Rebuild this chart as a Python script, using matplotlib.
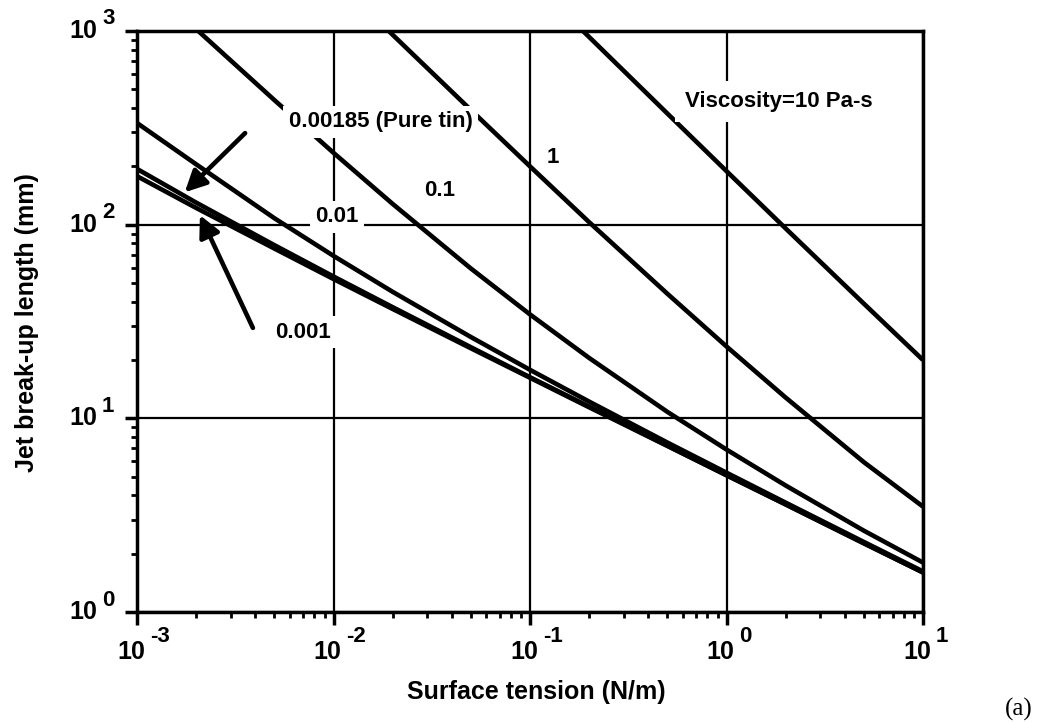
import matplotlib
matplotlib.use("Agg")
import matplotlib.pyplot as plt

plt.rcParams['font.family'] = ['Liberation Sans', 'DejaVu Sans']

# Surface tension (N/m) and break-up length (mm), one curve per viscosity (Pa-s)
sigma_full = [0.001, 0.002, 0.005, 0.01, 0.02, 0.05, 0.1, 0.2, 0.5, 1, 2, 5, 10]
len_0001 = [178, 122, 75.3, 52.4, 36.7, 23.0, 16.2, 11.4, 7.2, 5.08, 3.59, 2.26, 1.60]
len_000185 = [194, 130, 78.4, 54.0, 37.5, 23.3, 16.3, 11.5, 7.23, 5.09, 3.60, 2.27, 1.60]
len_001 = [335, 205, 108, 69.0, 45.0, 26.3, 17.8, 12.2, 7.5, 5.24, 3.67, 2.30, 1.62]

sigma_01 = [0.00205, 0.005, 0.01, 0.02, 0.05, 0.1, 0.2, 0.5, 1, 2, 5, 10]
len_01 = [1000, 440, 235, 128, 59.4, 34.4, 20.5, 10.8, 6.9, 4.5, 2.63, 1.80]

sigma_1 = [0.0191, 0.02, 0.05, 0.1, 0.2, 0.5, 1, 2, 5, 10]
len_1 = [1000, 956, 391, 200, 103, 44.0, 23.5, 12.8, 5.94, 3.5]

sigma_10 = [0.186, 0.2, 0.5, 1, 2, 5, 10]
len_10 = [1000, 931, 375, 189, 95.6, 39.1, 20.0]

x_exps = [-3, -2, -1, 0, 1]
y_exps = [0, 1, 2, 3]

fig = plt.figure(figsize=(10.45, 7.23), dpi=100)
ax = fig.add_axes([137/1045, 1 - 612/723, 786/1045, 581/723])
ax.set_xscale('log')
ax.set_yscale('log')
ax.set_xlim(1e-3, 1e1)
ax.set_ylim(1e0, 1e3)

# curves
lw = 3.3
for xs, ys in [(sigma_full, len_0001), (sigma_full, len_000185), (sigma_full, len_001),
               (sigma_01, len_01), (sigma_1, len_1), (sigma_10, len_10)]:
    ax.plot(xs, ys, color='black', lw=lw, solid_capstyle='butt', zorder=3)

ax.set_axisbelow(True)
ax.grid(which='major', color='black', lw=1.6)
ax.grid(which='minor', visible=False)
for s in ax.spines.values():
    s.set_linewidth(2.5)

ax.tick_params(which='major', direction='out', length=9, width=2.5,
               top=False, right=False, labelbottom=False, labelleft=False)
ax.tick_params(which='minor', direction='out', length=4, width=2,
               top=False, right=False, labelbottom=False, labelleft=False)

# tick labels drawn by hand: 10 with a raised exponent
px = 0.72
for e in x_exps:
    ax.annotate('10', xy=(10.0**e, 0), xycoords=('data', 'axes fraction'),
                xytext=(-6*px, -40*px), textcoords='offset points',
                ha='center', va='center', fontsize=18, fontweight='bold')
    ax.annotate(str(e), xy=(10.0**e, 0), xycoords=('data', 'axes fraction'),
                xytext=(13*px, -25*px), textcoords='offset points',
                ha='left', va='center', fontsize=16, fontweight='bold')
for e in y_exps:
    ax.annotate('10', xy=(0, 10.0**e), xycoords=('axes fraction', 'data'),
                xytext=(-54*px, 0), textcoords='offset points',
                ha='center', va='center', fontsize=18, fontweight='bold')
    ax.annotate(str(e), xy=(0, 10.0**e), xycoords=('axes fraction', 'data'),
                xytext=(-35*px, 12*px), textcoords='offset points',
                ha='left', va='center', fontsize=16, fontweight='bold')

fig.text(536/1045, 1 - 692/723, 'Surface tension (N/m)', ha='center', va='center',
         fontsize=18, fontweight='bold')
fig.text(27/1045, 1 - 323/723, 'Jet break-up length (mm)', ha='center', va='center',
         rotation=90, fontsize=18, fontweight='bold')
fig.text(1019/1045, 1 - 709/723, '(a)', ha='center', va='center',
         fontsize=18, family='Liberation Serif')

# curve labels
box = dict(boxstyle='square,pad=0.25', fc='white', ec='none')
tkw = dict(transform=ax.transAxes, ha='center', va='center', fontsize=16,
           fontweight='bold', zorder=5)
ax.text(0.3104, 0.8434, '0.00185 (Pure tin)', bbox=box, **tkw)
ax.text(0.3855, 0.7263, '0.1', **tkw)
ax.text(0.5293, 0.7831, '1', **tkw)
ax.text(0.2545, 0.6799, '0.01', bbox=box, **tkw)
ax.text(0.2112, 0.4819, '0.001', bbox=box, **tkw)
ax.text(0.8168, 0.8778, 'Viscosity=10 Pa-s', bbox=dict(boxstyle='square,pad=0.45', fc='white', ec='none'), **tkw)

arrow = dict(arrowstyle='-|>', color='black', lw=3.3, mutation_scale=32, shrinkA=0, shrinkB=0)
ax.annotate('', xy=(0.00175, 147), xytext=(0.00355, 297), arrowprops=arrow, zorder=6)
ax.annotate('', xy=(0.00209, 112), xytext=(0.00389, 29.3), arrowprops=arrow, zorder=6)

fig.savefig('out.png', dpi=100)
